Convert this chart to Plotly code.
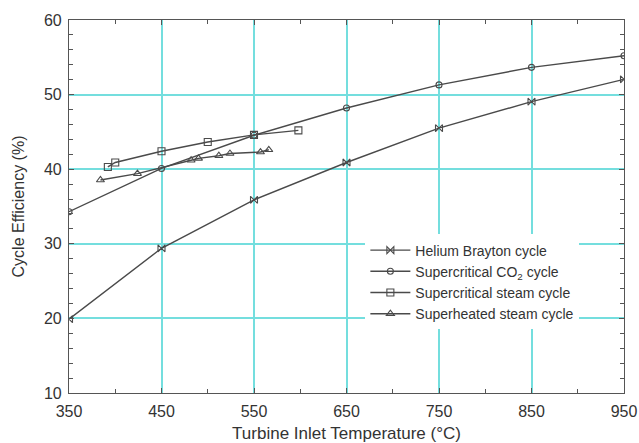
import plotly.graph_objects as go

# Data
he_temp = [350, 450, 550, 650, 750, 850, 950]
he_eff = [19.9, 29.4, 35.9, 40.9, 45.5, 49.05, 52.05]

co2_temp = [350, 450, 550, 650, 750, 850, 950]
co2_eff = [34.3, 40.1, 44.55, 48.2, 51.3, 53.65, 55.2]

scs_temp = [392, 400, 450, 500, 550, 598]
scs_eff = [40.3, 40.9, 42.4, 43.65, 44.6, 45.2]

shs_temp = [384, 424, 482, 490, 512, 524, 557, 566]
shs_eff = [38.55, 39.4, 41.2, 41.45, 41.8, 42.1, 42.3, 42.6]

x_ticks = [350, 450, 550, 650, 750, 850, 950]
y_ticks = [10, 20, 30, 40, 50, 60]

LINE = "#4a4a4a"
GRID = "#74dede"
FONT = "Liberation Sans, Arial, sans-serif"
TXT = "#333333"

fig = go.Figure()

def add(x, y, name, symbol, size):
    fig.add_trace(go.Scatter(
        x=x, y=y, name=name, mode="lines+markers",
        line=dict(color=LINE, width=1.4),
        marker=dict(symbol=symbol, size=size, color=LINE,
                    line=dict(color=LINE, width=1.1)),
        cliponaxis=True,
    ))

add(he_temp, he_eff, "Helium Brayton cycle", "bowtie-open", 7)
add(co2_temp, co2_eff, "Supercritical CO<sub>2</sub> cycle", "circle-open", 6)
add(scs_temp, scs_eff, "Supercritical steam cycle", "square-open", 7)
add(shs_temp, shs_eff, "Superheated steam cycle", "triangle-up-open", 7)

axis_common = dict(
    showline=True, linecolor="#555555", linewidth=1.2, mirror="ticks",
    ticks="inside", ticklen=5, tickcolor="#555555", tickwidth=1,
    showgrid=True, gridcolor=GRID, gridwidth=1.8, zeroline=False,
    tickfont=dict(family=FONT, size=16, color=TXT),
    automargin=False,
)

fig.update_layout(
    width=639, height=443,
    margin=dict(l=69, r=15, t=20, b=50),
    paper_bgcolor="white", plot_bgcolor="white",
    font=dict(family=FONT, size=14, color=TXT),
    showlegend=True,
    legend=dict(
        x=0.534, y=0.425, xanchor="left", yanchor="top",
        bgcolor="white", borderwidth=0,
        font=dict(family=FONT, size=14, color=TXT),
        tracegroupgap=0, itemwidth=40,
    ),
    xaxis=dict(
        range=[350, 950], tickvals=x_ticks,
        minor=dict(dtick=50, tick0=350, ticks="inside", ticklen=4,
                   tickcolor="#555555", showgrid=False),
        title=dict(text="Turbine Inlet Temperature (°C)",
                   font=dict(family=FONT, size=17, color=TXT)),
        ticklabelstandoff=4,
        **axis_common,
    ),
    yaxis=dict(
        range=[10, 60], tickvals=y_ticks,
        minor=dict(dtick=2, tick0=10, ticks="inside", ticklen=4,
                   tickcolor="#555555", showgrid=False),
        title=dict(text="Cycle Efficiency (%)",
                   font=dict(family=FONT, size=16, color=TXT)),
        ticklabelstandoff=3,
        **axis_common,
    ),
)

fig.write_html(
    "out.html",
    config={"displayModeBar": False},
    post_script="document.body.style.margin='0';document.body.style.overflow='hidden';",
)
